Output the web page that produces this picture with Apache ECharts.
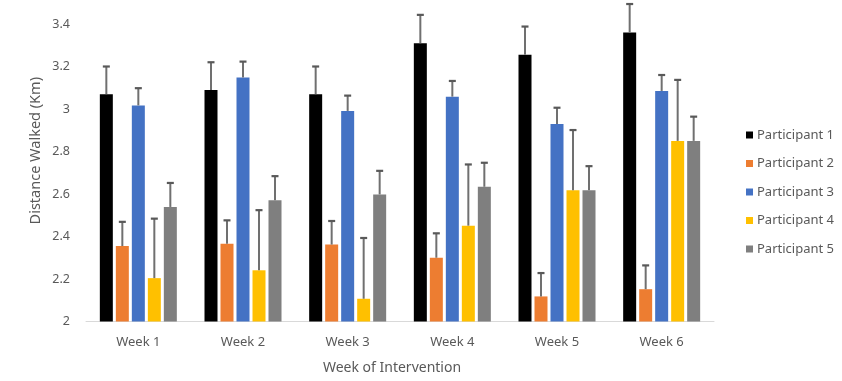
<!DOCTYPE html>
<html>
<head>
<meta charset="utf-8">
<script src="https://cdn.jsdelivr.net/npm/echarts@6/dist/echarts.min.js"></script>
<style>
html,body{margin:0;padding:0;background:#fff;}
#chart{width:842px;height:381px;}
</style>
</head>
<body>
<div id="chart"></div>
<script>
var categories = ['Week 1', 'Week 2', 'Week 3', 'Week 4', 'Week 5', 'Week 6'];
var seriesNames = ['Participant 1', 'Participant 2', 'Participant 3', 'Participant 4', 'Participant 5'];
var p1 = [3.07, 3.09, 3.07, 3.31, 3.255, 3.36];
var p2 = [2.355, 2.366, 2.362, 2.30, 2.118, 2.152];
var p3 = [3.017, 3.148, 2.991, 3.058, 2.929, 3.085];
var p4 = [2.204, 2.241, 2.107, 2.451, 2.618, 2.85];
var p5 = [2.539, 2.571, 2.598, 2.634, 2.618, 2.85];
var e1 = [0.13, 0.13, 0.13, 0.133, 0.133, 0.134];
var e2 = [0.114, 0.11, 0.111, 0.115, 0.11, 0.112];
var e3 = [0.081, 0.075, 0.072, 0.074, 0.077, 0.075];
var e4 = [0.28, 0.283, 0.286, 0.288, 0.283, 0.287];
var e5 = [0.113, 0.113, 0.111, 0.113, 0.113, 0.114];
var yTicks = [2, 2.2, 2.4, 2.6, 2.8, 3, 3.2, 3.4];

var values = [p1, p2, p3, p4, p5];
var errors = [e1, e2, e3, e4, e5];
var colors = ['#000000', '#ED7D31', '#4472C4', '#FFC000', '#7F7F7F'];
var BAR_W = 13, GAP = 3;
var FONT = 'Noto Sans';

var chart = echarts.init(document.getElementById('chart'));
var series = [];
values.forEach(function (vals, i) {
  series.push({
    name: seriesNames[i],
    type: 'bar',
    data: vals,
    barWidth: BAR_W,
    barGap: (GAP / BAR_W * 100) + '%',
    itemStyle: { color: colors[i] },
    z: 2
  });
});
values.forEach(function (vals, i) {
  var data = vals.map(function (v, k) { return [k, v, v + errors[i][k]]; });
  series.push({
    type: 'custom',
    name: 'err' + i,
    clip: false,
    z: 3,
    silent: true,
    data: data,
    renderItem: function (params, api) {
      var k = api.value(0);
      var base = api.coord([k, api.value(1)]);
      var top = api.coord([k, api.value(2)]);
      var total = 5 * BAR_W + 4 * GAP;
      var x = base[0] - total / 2 + BAR_W / 2 + i * (BAR_W + GAP);
      return {
        type: 'group',
        children: [
          { type: 'line', shape: { x1: x, y1: base[1], x2: x, y2: top[1] }, style: { stroke: '#707070', lineWidth: 2 } },
          { type: 'line', shape: { x1: x - 3.5, y1: top[1], x2: x + 3.5, y2: top[1] }, style: { stroke: '#595959', lineWidth: 2.2 } }
        ]
      };
    }
  });
});

chart.setOption({
  animation: false,
  textStyle: { fontFamily: FONT },
  grid: { left: 86, right: 128, top: 24, bottom: 59.5 },
  legend: {
    data: seriesNames,
    orient: 'vertical',
    left: 741,
    top: 122,
    itemWidth: 7,
    itemHeight: 7,
    itemGap: 12.5,
    icon: 'rect',
    textStyle: { fontFamily: FONT, fontSize: 13, color: '#595959', lineHeight: 16, padding: [0, 0, 0, -1] }
  },
  xAxis: {
    type: 'category',
    data: categories,
    axisLine: { lineStyle: { color: '#d9d9d9', width: 1 } },
    axisTick: { show: false },
    axisLabel: { color: '#595959', fontSize: 13, margin: 14, fontFamily: FONT },
    name: 'Week of Intervention',
    nameLocation: 'middle',
    nameGap: 40,
    nameTextStyle: { color: '#595959', fontSize: 14, fontFamily: FONT, padding: [0, 16, 0, 0] }
  },
  yAxis: {
    type: 'value',
    min: yTicks[0],
    max: yTicks[yTicks.length - 1],
    interval: 0.2,
    splitLine: { show: false },
    axisLine: { show: false },
    axisTick: { show: false },
    axisLabel: {
      color: '#595959', fontSize: 12.5, margin: 16, fontFamily: FONT,
      formatter: function (v) { return String(Math.round(v * 10) / 10); }
    }
  },
  graphic: [{
    type: 'text',
    left: 28,
    top: 77,
    rotation: Math.PI / 2,
    style: { text: 'Distance Walked (Km)', fill: '#595959', font: '14.5px "Noto Sans"' }
  }],
  series: series
});
</script>
</body>
</html>
